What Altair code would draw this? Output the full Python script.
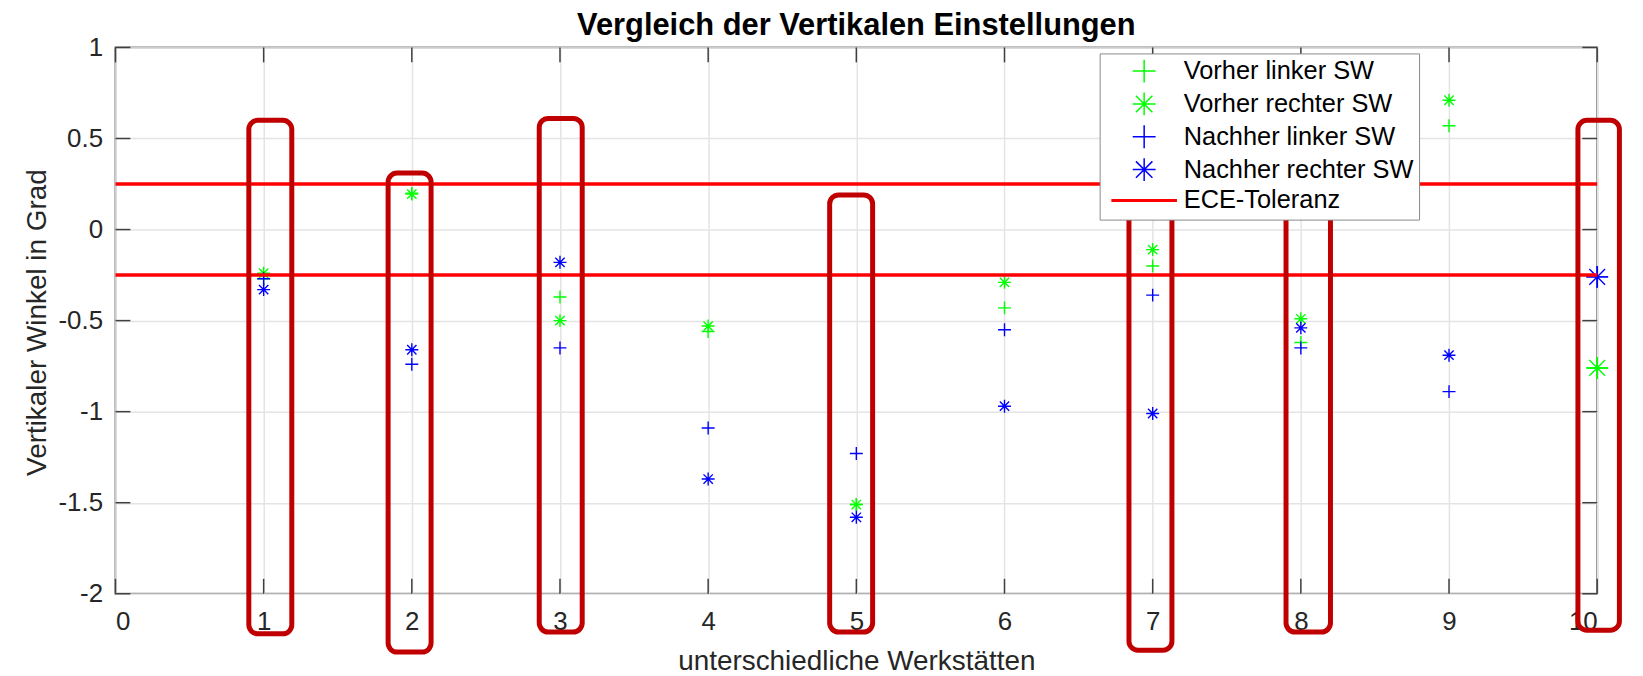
import altair as alt
import pandas as pd

# ---------------- data ----------------
workshops = [1, 2, 3, 4, 5, 6, 7, 8, 9, 10]
vorher_linker = [-0.27, 0.20, -0.37, -0.56, -1.51, -0.43, -0.20, -0.62, 0.57, -0.76]
vorher_rechter = [-0.24, 0.195, -0.50, -0.53, -1.51, -0.29, -0.11, -0.49, 0.71, -0.76]
nachher_linker = [-0.27, -0.74, -0.65, -1.09, -1.23, -0.55, -0.36, -0.65, -0.89, -0.26]
nachher_rechter = [-0.33, -0.66, -0.18, -1.37, -1.58, -0.97, -1.01, -0.54, -0.69, -0.26]

series_names = ["Vorher linker SW", "Vorher rechter SW", "Nachher linker SW",
                "Nachher rechter SW", "ECE-Toleranz"]
tolerance = [0.25, -0.25]
title_text = ["Vergleich der Vertikalen Einstellungen"]

x_ticks = [0, 1, 2, 3, 4, 5, 6, 7, 8, 9, 10]
y_ticks = [1, 0.5, 0, -0.5, -1, -1.5, -2]

# highlighted workshops (red rounded boxes), in data units
box_workshop = [1, 2, 3, 5, 7, 8, 10]
box_left = [0.90, 1.84, 2.86, 4.82, 6.84, 7.90, 9.87]
box_right = [1.19, 2.13, 3.15, 5.11, 7.13, 8.20, 10.15]
box_top = [0.60, 0.31, 0.61, 0.19, 0.31, 0.19, 0.60]
box_bottom = [-2.22, -2.32, -2.21, -2.21, -2.31, -2.21, -2.20]

# ---------------- styling ----------------
PLUS = "M-1,0L1,0M0,-1L0,1"
STAR = "M-1,0L1,0M0,-1L0,1M-0.72,-0.72L0.72,0.72M-0.72,0.72L0.72,-0.72"
LINE = "M-2.8,-0.065L2.8,-0.065L2.8,0.065L-2.8,0.065Z"
series_colors = ["#00ff00", "#00ff00", "#0000ff", "#0000ff", "#ff0000"]
series_shapes = [PLUS, STAR, PLUS, STAR, LINE]

FONT = "Liberation Sans"
W, H = 1489, 549

# ---------------- tables ----------------
rows = []
for name, vals in zip(series_names[:4], [vorher_linker, vorher_rechter, nachher_linker, nachher_rechter]):
    for w, v in zip(workshops, vals):
        rows.append({"Werkstatt": w, "Winkel": v, "Serie": name})
points = pd.DataFrame(rows)
tol_df = pd.DataFrame({"Winkel": tolerance, "Serie": ["ECE-Toleranz"] * len(tolerance)})
boxes = pd.DataFrame({"w": box_workshop, "x1": box_left, "x2": box_right,
                      "y1": box_top, "y2": box_bottom})
xt = pd.DataFrame({"t": x_ticks})
yt = pd.DataFrame({"t": y_ticks})
tt = pd.DataFrame({"title": title_text})

xscale = alt.Scale(domain=[0, 10], nice=False, zero=False)
yscale = alt.Scale(domain=[-2, 1], nice=False, zero=False)

x_axis = alt.Axis(values=x_ticks, grid=True, ticks=False, tickSize=0, domain=False,
                  labelFontSize=26, labelFont=FONT, labelColor="#262626",
                  labelBaseline="alphabetic", labelPadding=36, labelExpr="'' + datum.value",
                  title="unterschiedliche Werkstätten", titleFont=FONT, titleFontSize=28,
                  titleFontWeight="normal", titleColor="#262626",
                  titleBaseline="alphabetic", titleY=76,
                  gridColor="#e4e4e4", gridWidth=1.5)
y_axis = alt.Axis(values=y_ticks, grid=True, ticks=False, tickSize=0, domain=False,
                  labelFontSize=26, labelFont=FONT, labelColor="#262626",
                  labelPadding=13, labelExpr="'' + datum.value",
                  title="Vertikaler Winkel in Grad", titleFont=FONT, titleFontSize=28,
                  titleFontWeight="normal", titleColor="#262626",
                  titleBaseline="alphabetic", titleX=-70, titleY=276, titleAngle=270,
                  gridColor="#e4e4e4", gridWidth=1.5)

color_enc = alt.Color("Serie:N", title=None,
                      scale=alt.Scale(domain=series_names, range=series_colors),
                      legend=alt.Legend(orient="none", legendX=989, legendY=6))
shape_enc = alt.Shape("Serie:N", title=None,
                      scale=alt.Scale(domain=series_names, range=series_shapes))

# inner tick marks (MATLAB style)
tick_color = "#404040"
ticks_bottom = alt.Chart(xt).mark_rule(color=tick_color, strokeWidth=1.5).encode(
    x=alt.X("t:Q", scale=xscale, axis=x_axis), y=alt.value(H), y2=alt.value(H - 15))
ticks_top = alt.Chart(xt).mark_rule(color=tick_color, strokeWidth=1.5).encode(
    x=alt.X("t:Q", scale=xscale), y=alt.value(0), y2=alt.value(15))
ticks_left = alt.Chart(yt).mark_rule(color=tick_color, strokeWidth=1.5).encode(
    y=alt.Y("t:Q", scale=yscale, axis=y_axis), x=alt.value(0), x2=alt.value(15))
ticks_right = alt.Chart(yt).mark_rule(color=tick_color, strokeWidth=1.5).encode(
    y=alt.Y("t:Q", scale=yscale), x=alt.value(W), x2=alt.value(W - 15))

pts = alt.Chart(points).mark_point(filled=False, opacity=1, strokeWidth=1.4).encode(
    x=alt.X("Werkstatt:Q", scale=xscale),
    y=alt.Y("Winkel:Q", scale=yscale),
    color=color_enc, shape=shape_enc,
    size=alt.condition("datum.Werkstatt == 10", alt.value(484), alt.value(169)),
)

tol = alt.Chart(tol_df).mark_rule(opacity=1, strokeWidth=3.5).encode(
    y=alt.Y("Winkel:Q", scale=yscale),
    color=color_enc,
)

rects = alt.Chart(boxes).mark_rect(fillOpacity=0, stroke="#C00000", strokeWidth=5,
                                   cornerRadius=9).encode(
    x=alt.X("x1:Q", scale=xscale), x2="x2:Q",
    y=alt.Y("y1:Q", scale=yscale), y2="y2:Q",
)

title_mark = alt.Chart(tt).mark_text(font=FONT, fontSize=31, fontWeight="bold",
                                     color="#000000", align="center",
                                     baseline="alphabetic").encode(
    text="title:N", x=alt.value(W / 2), y=alt.value(-13))

chart = alt.layer(ticks_bottom, ticks_top, ticks_left, ticks_right, pts, tol, rects,
                  title_mark).properties(
    width=W, height=H,
    autosize=alt.AutoSizeParams(type="none"),
    padding={"left": 108, "top": 38, "right": 38, "bottom": 81},
    background="white",
).configure_view(
    stroke="#808080", strokeWidth=2
).configure_legend(
    padding=5, rowPadding=3, symbolOffset=27, labelOffset=27, symbolSize=529,
    symbolStrokeWidth=1.5,
    labelFontSize=25.5, labelFont=FONT, labelColor="#000000", labelLimit=400,
    strokeColor="#8a8a8a", fillColor="#ffffff", cornerRadius=0,
    symbolFillColor="transparent",
)

chart.save("out.html", embed_options={"renderer": "svg", "actions": False})
